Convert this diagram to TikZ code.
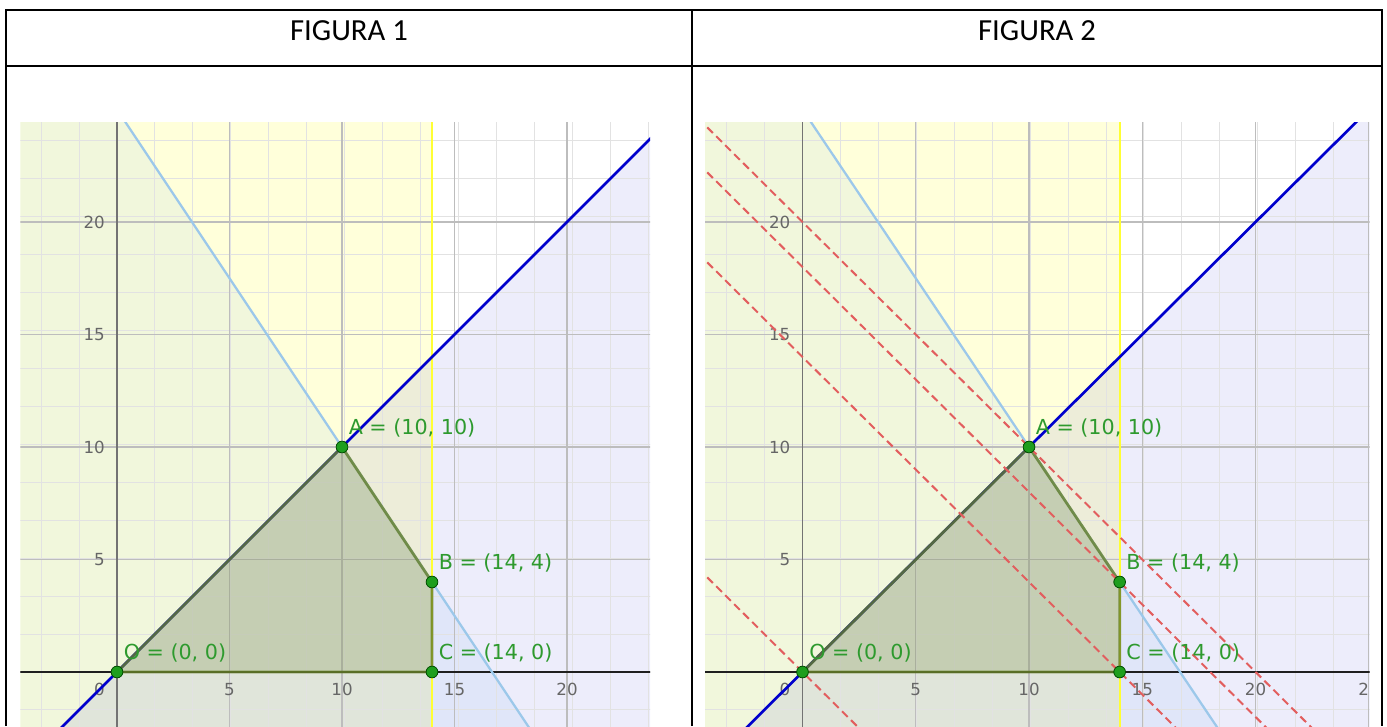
\documentclass[tikz,border=0pt]{standalone}
\usepackage{fontspec}
\newfontfamily\headfont{Carlito}
\newfontfamily\ggfont{DejaVu Sans}
\definecolor{ggyellow}{HTML}{FFFF33}
\definecolor{gglightblue}{HTML}{9CC8EA}
\definecolor{ggblue}{HTML}{0000CC}
\definecolor{ggolive}{HTML}{667F28}
\definecolor{ggpoint}{HTML}{1E9E1E}
\definecolor{ggtext}{HTML}{2E9A2E}
\definecolor{ggred}{HTML}{E25E5E}
\definecolor{gridminor}{HTML}{E2E2E2}
\definecolor{gridmajor}{HTML}{BDBDBD}

\begin{document}
\begin{tikzpicture}[x=0.75pt,y=0.75pt,tabline/.style={line width=1.7pt,black},head/.style={font=\headfont\fontsize{23}{27}\selectfont,anchor=base,inner sep=0pt},minorgrid/.style={gridminor,line width=0.7pt},majorgrid/.style={gridmajor,line width=0.9pt},xaxis/.style={line width=2.2pt,black!88},yaxis/.style={line width=0.9pt,black!55},tick/.style={font=\ggfont\fontsize{12.5}{14}\selectfont,text=black!60,inner sep=0pt},constraint/.style={line width=1.7pt},feasible/.style={fill=ggolive,fill opacity=0.22,draw=ggolive,draw opacity=0.8,line width=2.1pt,line join=round},objline/.style={ggred,line width=1.5pt,dash pattern=on 6pt off 3.5pt},pt/.style={circle,fill=ggpoint,draw=black!70!green,line width=0.6pt,inner sep=0pt,minimum size=8.8pt},ptlabel/.style={font=\ggfont\fontsize{15.5}{18}\selectfont,text=ggtext,anchor=base west,inner sep=0pt}]
\useasboundingbox (0,0) rectangle (1387,726);
\foreach \fig/\ox/\ux/\xr in {1/117/16.875/23.69,2/802.5/16.99/25.03}{
\begin{scope}[shift={(\ox,54)},x=\ux pt,y=16.875pt]
\clip (-4.3,-2.4) rectangle (\xr,24.44);
% half-planes of the constraints
\fill[ggyellow,opacity=0.18] (-5,-3) rectangle (14,25);
\fill[gglightblue,opacity=0.14] (-5,-3) -- (-5,32.5) -- (18.67,-3) -- cycle;
\fill[ggblue,opacity=0.07] (-5,-5) -- (27,27) -- (27,-5) -- cycle;
\draw[minorgrid] (-5,-3) grid (26,25); \draw[majorgrid,step=5] (-5,-5) grid (26,25);
\draw[yaxis] (0,-3) -- (0,25); \draw[xaxis] (-5,0) -- (26,0);
\foreach \t in {5,10,15,20}{\node[tick,anchor=east] (ty\t) at ([xshift=-9pt]0,\t) {\t};}
\foreach \t in {5,10,15,20,25}{\node[tick,anchor=north] (tx\t) at ([yshift=-8pt]\t,0) {\t};}
\node[tick,anchor=north east] (t0) at ([xshift=-9pt,yshift=-8pt]0,0) {0};
\draw[constraint,gglightblue] (-1,26.5) -- (20,-5); \draw[constraint,ggyellow] (14,-3) -- (14,25); \draw[constraint,ggblue,line width=2pt] (-5,-5) -- (27,27);
\coordinate (O\fig) at (0,0); \coordinate (A\fig) at (10,10); \coordinate (B\fig) at (14,4); \coordinate (C\fig) at (14,0);
\path[feasible] (O\fig) -- (A\fig) -- (B\fig) -- (C\fig) -- cycle;
% level lines only in the second figure
\ifnum\fig=2 \foreach \c in {0,14,18,20}{\draw[objline] (-5,\c+5) -- (\c+5,-5);} \fi
\node[pt] (pO\fig) at (O\fig) {}; \node[pt] (pA\fig) at (A\fig) {}; \node[pt] (pB\fig) at (B\fig) {}; \node[pt] (pC\fig) at (C\fig) {};
\node[ptlabel] (lO\fig) at ([shift={(4.9pt,9.4pt)}]O\fig) {O = (0, 0)};
\node[ptlabel] (lA\fig) at ([shift={(4.9pt,9.4pt)}]A\fig) {A = (10, 10)};
\node[ptlabel] (lB\fig) at ([shift={(4.9pt,9.4pt)}]B\fig) {B = (14, 4)};
\node[ptlabel] (lC\fig) at ([shift={(4.9pt,9.4pt)}]C\fig) {C = (14, 0)};
\end{scope}}
\draw[tabline] (6,0) -- (6,716) -- (1382,716) -- (1382,0); \draw[tabline] (692,0) -- (692,716) (6,660) -- (1382,660);
\node[head] (title1) at (349,685.3) {FIGURA 1}; \node[head] (title2) at (1037,685.3) {FIGURA 2};
\end{tikzpicture}
\end{document}
